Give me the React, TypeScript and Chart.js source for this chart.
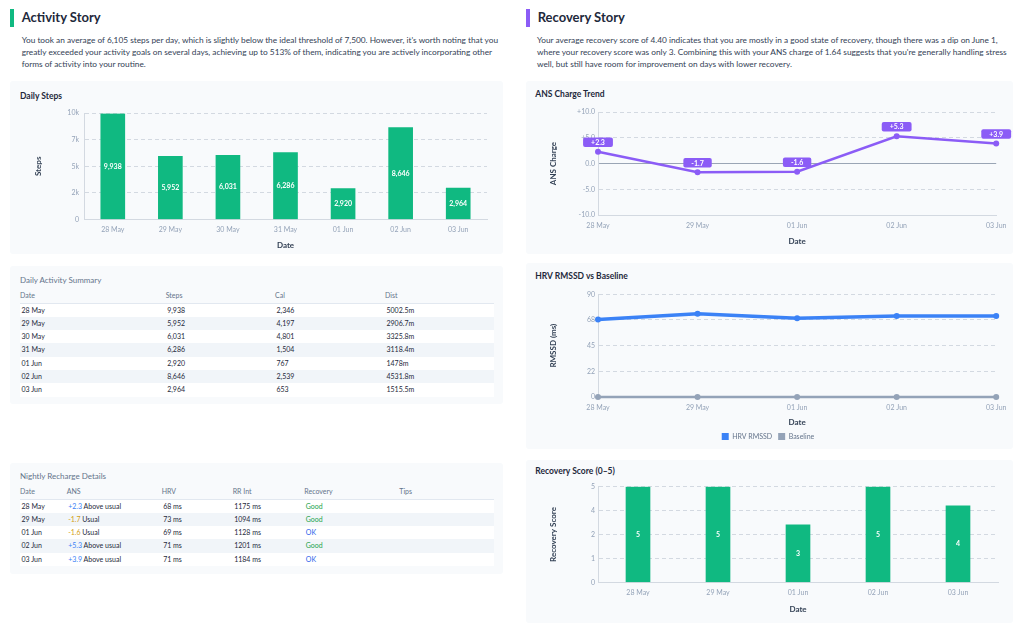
import React, { useEffect, useRef } from "react";
import { Chart, registerables } from "chart.js";

Chart.register(...registerables);

const FONT = "Lato, 'Noto Sans', sans-serif";
Chart.defaults.font.family = FONT;

const GREEN = "#10b981";
const PURPLE = "#8b5cf6";
const BLUE = "#3b82f6";
const GRAY = "#94a3b8";
const GRID = "#d3d9e1";
const TICK = "#94a3b8";
const AXIS_TITLE = "#334155";
const TEXT = "#1e293b";
const CARD_BG = "#f8fafc";

// ---------- data ----------
const stepDates = ["28 May", "29 May", "30 May", "31 May", "01 Jun", "02 Jun", "03 Jun"];
const stepValues = [9938, 5952, 6031, 6286, 2920, 8646, 2964];
const stepTickLabels = ["0", "2k", "5k", "7k", "10k"];
const calValues = [2346, 4197, 4801, 1504, 767, 2539, 653];
const distValues = ["5002.5m", "2906.7m", "3325.8m", "3118.4m", "1478m", "4531.8m", "1515.5m"];

const recoveryDates = ["28 May", "29 May", "01 Jun", "02 Jun", "03 Jun"];
const ansValues = [2.3, -1.7, -1.6, 5.3, 3.9];
const ansStatus = ["Above usual", "Usual", "Usual", "Above usual", "Above usual"];
const hrvValues = [68, 73, 69, 71, 71];
const baselineValues = [0, 0, 0, 0, 0];
const hrvTickLabels = ["0", "22", "45", "68", "90"];
const rrValues = [1175, 1094, 1128, 1201, 1184];
const recoveryLabels = ["Good", "Good", "OK", "Good", "OK"];
const recoveryScores = [5, 5, 3, 5, 4];
const scoreTickLabels = ["0", "1", "2", "4", "5"];

const activityStory =
  "You took an average of 6,105 steps per day, which is slightly below the ideal threshold of 7,500. However, it's worth noting that you greatly exceeded your activity goals on several days, achieving up to 513% of them, indicating you are actively incorporating other forms of activity into your routine.";
const recoveryStory =
  "Your average recovery score of 4.40 indicates that you are mostly in a good state of recovery, though there was a dip on June 1, where your recovery score was only 3. Combining this with your ANS charge of 1.64 suggests that you're generally handling stress well, but still have room for improvement on days with lower recovery.";

// ---------- chart helpers ----------
function xAxis(o: any) {
  return {
    offset: o.offset,
    grid: { display: false, drawTicks: false },
    border: { display: true, color: GRID, width: 1 },
    ticks: { color: TICK, font: { size: 7 }, padding: o.tickPad, maxRotation: 0, autoSkip: false },
    title: {
      display: true,
      text: "Date",
      color: AXIS_TITLE,
      font: { size: 8, weight: "bold" },
      padding: { top: 0, bottom: 0 },
    },
    afterFit: (s: any) => {
      s.height = o.height;
    },
  };
}

function yAxis(o: any) {
  const isZero = (c: any) => o.zeroLine && c.tick && Math.abs(c.tick.value) < 1e-9;
  return {
    min: o.min,
    max: o.max,
    grid: {
      drawTicks: false,
      color: (c: any) => (isZero(c) ? "#9aa5b5" : GRID),
      lineWidth: 1,
    },
    border: { display: true, color: GRID, dash: (c: any) => (isZero(c) ? [] : [4, 3]) },
    ticks: {
      stepSize: o.step,
      color: TICK,
      font: { size: 7 },
      padding: o.tickPad,
      callback: o.callback,
    },
    title: {
      display: true,
      text: o.title,
      color: AXIS_TITLE,
      font: { size: 8, weight: "bold" },
      padding: { top: o.titlePad, bottom: 0 },
    },
    afterFit: (s: any) => {
      s.width = o.width;
    },
  };
}

function barLabelPlugin(fmt: (v: number) => string) {
  return {
    id: "barLabels",
    afterDatasetsDraw(chart: any) {
      const ctx = chart.ctx;
      const meta = chart.getDatasetMeta(0);
      const ds = chart.data.datasets[0].data;
      ctx.save();
      ctx.font = `bold 7px ${FONT}`;
      ctx.fillStyle = "#ffffff";
      ctx.textAlign = "center";
      ctx.textBaseline = "middle";
      meta.data.forEach((bar: any, i: number) => {
        const p = bar.getProps(["x", "y", "base"], true);
        ctx.fillText(fmt(ds[i]), p.x, (p.y + p.base) / 2);
      });
      ctx.restore();
    },
  };
}

const ansLabelPlugin = {
  id: "ansLabels",
  afterDatasetsDraw(chart: any) {
    const ctx = chart.ctx;
    const meta = chart.getDatasetMeta(0);
    const ds = chart.data.datasets[0].data;
    ctx.save();
    ctx.font = `bold 7px ${FONT}`;
    ctx.textAlign = "center";
    ctx.textBaseline = "middle";
    meta.data.forEach((pt: any, i: number) => {
      const v = ds[i];
      const text = (v > 0 ? "+" : "") + v.toFixed(1);
      const w = ctx.measureText(text).width + 16;
      const h = 9.5;
      const cx = pt.x;
      const cy = pt.y - 9.5;
      ctx.fillStyle = PURPLE;
      ctx.beginPath();
      (ctx as any).roundRect(cx - w / 2, cy - h / 2, w, h, 2);
      ctx.fill();
      ctx.fillStyle = "#ffffff";
      ctx.fillText(text, cx, cy + 0.5);
    });
    ctx.restore();
  },
};

const baseOptions = {
  responsive: false,
  maintainAspectRatio: false,
  animation: false,
  events: [],
};

function stepsConfig(): any {
  return {
    type: "bar",
    data: {
      labels: stepDates,
      datasets: [{ data: stepValues, backgroundColor: GREEN, borderWidth: 0, barThickness: 24 }],
    },
    options: {
      ...baseOptions,
      layout: { padding: { left: 14, right: 16, top: 9, bottom: 4 } },
      plugins: { legend: { display: false }, tooltip: { enabled: false } },
      scales: {
        x: xAxis({ offset: true, tickPad: 6, height: 30.5 }),
        y: yAxis({
          title: "Steps",
          width: 60,
          titlePad: 10,
          tickPad: 5,
          min: 0,
          max: 10000,
          step: 2500,
          callback: (_v: any, i: number) => stepTickLabels[i],
        }),
      },
    },
    plugins: [barLabelPlugin((v) => v.toLocaleString("en-US"))],
  };
}

function ansConfig(): any {
  return {
    type: "line",
    data: {
      labels: recoveryDates,
      datasets: [
        {
          data: ansValues,
          borderColor: PURPLE,
          backgroundColor: PURPLE,
          borderWidth: 2.5,
          pointRadius: 3,
          pointBorderWidth: 0,
          tension: 0,
          clip: false,
        },
      ],
    },
    options: {
      ...baseOptions,
      layout: { padding: { left: 12, right: 15, top: 8, bottom: 7.5 } },
      plugins: { legend: { display: false }, tooltip: { enabled: false } },
      scales: {
        x: xAxis({ offset: false, tickPad: 6.5, height: 31.5 }),
        y: yAxis({
          title: "ANS Charge",
          width: 60,
          titlePad: 11,
          tickPad: 3,
          min: -10,
          max: 10,
          step: 5,
          zeroLine: true,
          callback: (v: any) => (v > 0 ? "+" : "") + Number(v).toFixed(1),
        }),
      },
    },
    plugins: [ansLabelPlugin],
  };
}

function hrvConfig(): any {
  return {
    type: "line",
    data: {
      labels: recoveryDates,
      datasets: [
        {
          label: "HRV RMSSD",
          data: hrvValues,
          borderColor: BLUE,
          backgroundColor: BLUE,
          borderWidth: 3.5,
          pointRadius: 3,
          pointBorderWidth: 0,
          tension: 0,
          clip: false,
        },
        {
          label: "Baseline",
          data: baselineValues,
          borderColor: GRAY,
          backgroundColor: GRAY,
          borderWidth: 2.5,
          pointRadius: 3,
          pointBorderWidth: 0,
          tension: 0,
          clip: false,
        },
      ],
    },
    options: {
      ...baseOptions,
      layout: { padding: { left: 12, right: 15, top: 8.3, bottom: 0 } },
      plugins: {
        tooltip: { enabled: false },
        legend: {
          display: true,
          position: "bottom",
          labels: {
            boxWidth: 7,
            boxHeight: 7,
            padding: 6,
            color: "#64748b",
            font: { size: 7 },
            generateLabels: (chart: any) =>
              (Chart.defaults.plugins.legend.labels as any)
                .generateLabels(chart)
                .map((l: any) => ({ ...l, lineWidth: 0 })),
          },
        },
      },
      scales: {
        x: xAxis({ offset: false, tickPad: 6.5, height: 30 }),
        y: yAxis({
          title: "RMSSD (ms)",
          width: 60,
          titlePad: 11,
          tickPad: 3,
          min: 0,
          max: 90,
          step: 22.5,
          callback: (_v: any, i: number) => hrvTickLabels[i],
        }),
      },
    },
  };
}

function recoveryConfig(): any {
  return {
    type: "bar",
    data: {
      labels: recoveryDates,
      datasets: [{ data: recoveryScores, backgroundColor: GREEN, borderWidth: 0, barThickness: 24 }],
    },
    options: {
      ...baseOptions,
      layout: { padding: { left: 12, right: 15, top: 8.7, bottom: 9.2 } },
      plugins: { legend: { display: false }, tooltip: { enabled: false } },
      scales: {
        x: xAxis({ offset: true, tickPad: 6.2, height: 31.5 }),
        y: yAxis({
          title: "Recovery Score",
          width: 60,
          titlePad: 11,
          tickPad: 3,
          min: 0,
          max: 5,
          step: 1.25,
          callback: (_v: any, i: number) => scoreTickLabels[i],
        }),
      },
    },
    plugins: [barLabelPlugin((v) => String(v))],
  };
}

// ---------- components ----------
function ChartCanvas({ x, y, w, h, config }: any) {
  const ref = useRef<HTMLCanvasElement>(null);
  useEffect(() => {
    const chart = new Chart(ref.current as HTMLCanvasElement, config());
    return () => chart.destroy();
  }, []);
  return (
    <canvas
      ref={ref}
      width={w}
      height={h}
      style={{ position: "absolute", left: x, top: y, width: w, height: h }}
    />
  );
}

function SectionHeader({ x, color, title }: any) {
  return (
    <>
      <div style={{ position: "absolute", left: x, top: 8.5, width: 3.5, height: 18, background: color }} />
      <div
        style={{
          position: "absolute",
          left: x + 11.7,
          top: 8,
          lineHeight: "18px",
          fontSize: 13,
          fontWeight: 700,
          color: TEXT,
          whiteSpace: "nowrap",
        }}
      >
        {title}
      </div>
    </>
  );
}

function Para({ x, w, text }: any) {
  return (
    <div
      style={{
        position: "absolute",
        left: x,
        top: 34,
        width: w,
        fontSize: 8.3,
        lineHeight: "12px",
        color: "#334155",
      }}
    >
      {text}
    </div>
  );
}

function Card({ x, y, w, h }: any) {
  return (
    <div
      style={{ position: "absolute", left: x, top: y, width: w, height: h, background: CARD_BG, borderRadius: 3 }}
    />
  );
}

function Label({ x, cy, text, size, weight, color }: any) {
  return (
    <div
      style={{
        position: "absolute",
        left: x,
        top: cy - 7,
        lineHeight: "14px",
        fontSize: size,
        fontWeight: weight,
        color,
        whiteSpace: "nowrap",
      }}
    >
      {text}
    </div>
  );
}

function Table({ x, top, widths, headers, rows }: any) {
  const rowH = 13.33;
  return (
    <div style={{ position: "absolute", left: x, top, width: widths.reduce((a: number, b: number) => a + b, 0) }}>
      <div
        style={{
          display: "flex",
          height: 14.5,
          lineHeight: "14.5px",
          borderBottom: "1px solid #e2e8f0",
          fontSize: 7,
          color: "#64748b",
        }}
      >
        {headers.map((hd: string, i: number) => (
          <div key={i} style={{ width: widths[i], flex: "none", whiteSpace: "nowrap" }}>
            {hd}
          </div>
        ))}
      </div>
      {rows.map((r: any[], ri: number) => (
        <div
          key={ri}
          style={{
            display: "flex",
            height: rowH,
            lineHeight: rowH + "px",
            fontSize: 7,
            color: TEXT,
            background: ri % 2 === 1 ? "#f1f5f9" : "#ffffff",
          }}
        >
          {r.map((c: any, ci: number) => (
            <div
              key={ci}
              style={{ width: widths[ci], flex: "none", paddingLeft: 1.5, boxSizing: "border-box", whiteSpace: "nowrap" }}
            >
              {c}
            </div>
          ))}
        </div>
      ))}
    </div>
  );
}

export default function App() {
  const activityRows = stepDates.map((d, i) => [
    d,
    stepValues[i].toLocaleString("en-US"),
    calValues[i].toLocaleString("en-US"),
    distValues[i],
  ]);
  const nightlyRows = recoveryDates.map((d, i) => [
    d,
    <span>
      <span style={{ color: ansValues[i] > 0 ? "#3b82f6" : "#d4a017" }}>
        {(ansValues[i] > 0 ? "+" : "") + ansValues[i].toFixed(1)}
      </span>{" "}
      {ansStatus[i]}
    </span>,
    hrvValues[i] + " ms",
    rrValues[i] + " ms",
    <span style={{ color: recoveryLabels[i] === "Good" ? "#22a34a" : "#2563eb" }}>{recoveryLabels[i]}</span>,
    "",
  ]);

  return (
    <div
      style={{
        position: "absolute",
        left: 0,
        top: 0,
        width: 1024,
        height: 641,
        background: "#ffffff",
        fontFamily: FONT,
        color: TEXT,
        overflow: "hidden",
      }}
    >
      <SectionHeader x={10} color={GREEN} title="Activity Story" />
      <Para x={21.7} w={482} text={activityStory} />
      <SectionHeader x={526} color={PURPLE} title="Recovery Story" />
      <Para x={537} w={476} text={recoveryStory} />

      {/* Left column */}
      <Card x={10} y={81} w={493} h={173} />
      <Label x={20} cy={96} text="Daily Steps" size={8.5} weight={700} color={TEXT} />
      <ChartCanvas x={10} y={104} w={493} h={150} config={stepsConfig} />

      <Card x={10} y={266} w={493} h={138} />
      <Label x={20} cy={280.3} text="Daily Activity Summary" size={8} weight={400} color="#64748b" />
      <Table
        x={20}
        top={288}
        widths={[145.7, 109.3, 110, 109]}
        headers={["Date", "Steps", "Cal", "Dist"]}
        rows={activityRows}
      />

      <Card x={10} y={463} w={493} h={111} />
      <Label x={20} cy={475.7} text="Nightly Recharge Details" size={8} weight={400} color="#64748b" />
      <Table
        x={20}
        top={484}
        widths={[46.7, 95, 71, 71.6, 95, 94.7]}
        headers={["Date", "ANS", "HRV", "RR Int", "Recovery", "Tips"]}
        rows={nightlyRows}
      />

      {/* Right column */}
      <Card x={526} y={81} w={487} h={173} />
      <Label x={535.3} cy={94.3} text="ANS Charge Trend" size={8.5} weight={700} color={TEXT} />
      <ChartCanvas x={526} y={104} w={487} h={150} config={ansConfig} />

      <Card x={526} y={263} w={487} h={186} />
      <Label x={535.3} cy={276.3} text="HRV RMSSD vs Baseline" size={8.5} weight={700} color={TEXT} />
      <ChartCanvas x={526} y={286} w={487} h={164} config={hrvConfig} />

      <Card x={526} y={460} w={487} h={163} />
      <Label x={535.3} cy={470.7} text="Recovery Score (0–5)" size={8.5} weight={700} color={TEXT} />
      <ChartCanvas x={526} y={478} w={487} h={145} config={recoveryConfig} />
    </div>
  );
}
